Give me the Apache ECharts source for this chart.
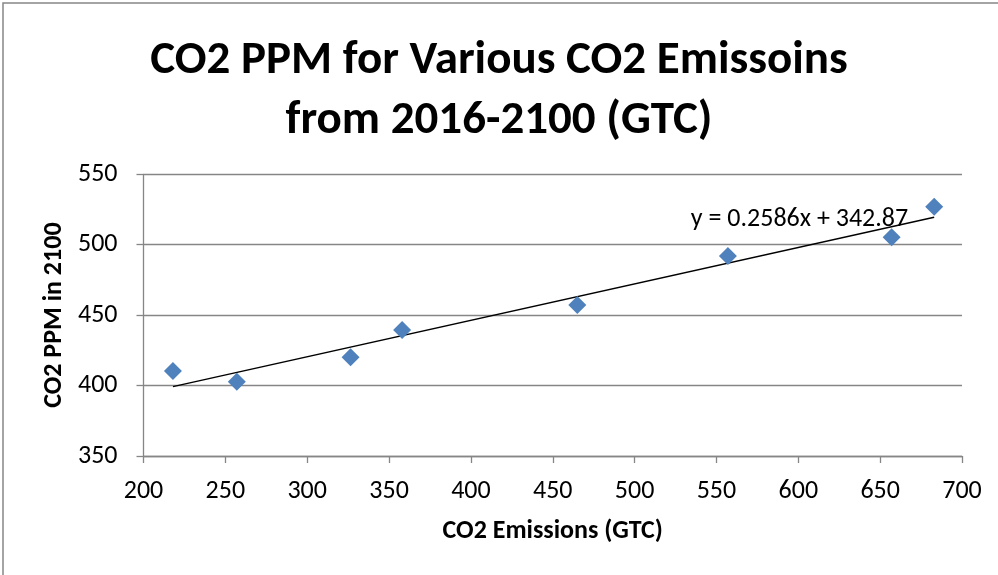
<!DOCTYPE html>
<html>
<head>
<meta charset="utf-8">
<script src="https://cdn.jsdelivr.net/npm/echarts@6/dist/echarts.min.js"></script>
<style>
  html, body { margin: 0; padding: 0; background: #fff; }
  #chart { width: 998px; height: 575px; }
</style>
</head>
<body>
<div id="chart"></div>
<script>
// emissions 2016-2100 (GTC) and resulting CO2 ppm in 2100
const emissions = [218, 257, 326.5, 358, 465, 557, 657, 683];
const ppm = [410.3, 402.8, 420.1, 439.5, 457.2, 492, 505.3, 527];
const xTicks = [200, 250, 300, 350, 400, 450, 500, 550, 600, 650, 700];
const yTicks = [350, 400, 450, 500, 550];
// linear trendline as shown in the chart
const slope = 0.2586;
const intercept = 342.87;
const trendLabel = 'y = 0.2586x + 342.87';

const fontFamily = "Carlito, Lato, 'Liberation Sans', sans-serif";
const xMin = Math.min(...emissions);
const xMax = Math.max(...emissions);
const trend = [
  [xMin, slope * xMin + intercept],
  [xMax, slope * xMax + intercept]
];

const chart = echarts.init(document.getElementById('chart'), null, { renderer: 'canvas' });

const axisCommon = {
  type: 'value',
  axisLine: { show: true, lineStyle: { color: '#868686', width: 1.3 } },
  axisTick: { show: true, inside: false, length: 7, lineStyle: { color: '#868686', width: 1.3 } },
  axisLabel: { color: '#000', fontSize: 26, fontFamily: fontFamily },
  nameTextStyle: { color: '#000', fontSize: 26, fontWeight: 'bold', fontFamily: fontFamily },
  nameLocation: 'middle'
};

chart.setOption({
  animation: false,
  backgroundColor: '#fff',
  title: {
    text: 'CO2 PPM for Various CO2 Emissoins\nfrom 2016-2100 (GTC)',
    left: 'center',
    top: 26,
    textStyle: {
      color: '#000',
      fontSize: 47,
      fontWeight: 'bold',
      lineHeight: 60,
      fontFamily: fontFamily
    }
  },
  graphic: [{
    type: 'rect',
    shape: { x: 3, y: 3, width: 1010, height: 600 },
    style: { fill: 'none', stroke: '#868686', lineWidth: 1.5 },
    silent: true
  }],
  grid: { left: 143.5, right: 36, top: 174.3, bottom: 119 },
  xAxis: Object.assign({}, axisCommon, {
    min: xTicks[0],
    max: xTicks[xTicks.length - 1],
    interval: 50,
    name: 'CO2 Emissions (GTC)',
    nameGap: 62,
    splitLine: { show: false },
    axisLabel: Object.assign({}, axisCommon.axisLabel, { margin: 22 })
  }),
  yAxis: Object.assign({}, axisCommon, {
    min: yTicks[0],
    max: yTicks[yTicks.length - 1],
    interval: 50,
    name: 'CO2 PPM in 2100',
    nameGap: 72,
    nameRotate: 90,
    splitLine: { show: true, lineStyle: { color: '#868686', width: 1.3 } },
    axisLabel: Object.assign({}, axisCommon.axisLabel, { margin: 26 })
  }),
  series: [
    {
      type: 'line',
      data: trend,
      symbol: 'none',
      lineStyle: { color: '#000', width: 1.5 },
      silent: true,
      z: 3,
      markPoint: {
        symbol: 'circle',
        symbolSize: 0,
        data: [{
          coord: trend[1],
          label: {
            show: true,
            formatter: trendLabel,
            position: 'left',
            distance: 26,
            offset: [0, 2],
            color: '#000',
            fontSize: 26,
            fontFamily: fontFamily
          }
        }]
      }
    },
    {
      type: 'scatter',
      data: emissions.map((x, i) => [x, ppm[i]]),
      symbol: 'diamond',
      symbolSize: [18, 18],
      itemStyle: { color: '#4F81BD', opacity: 1 },
      z: 4
    }
  ]
});
</script>
</body>
</html>
